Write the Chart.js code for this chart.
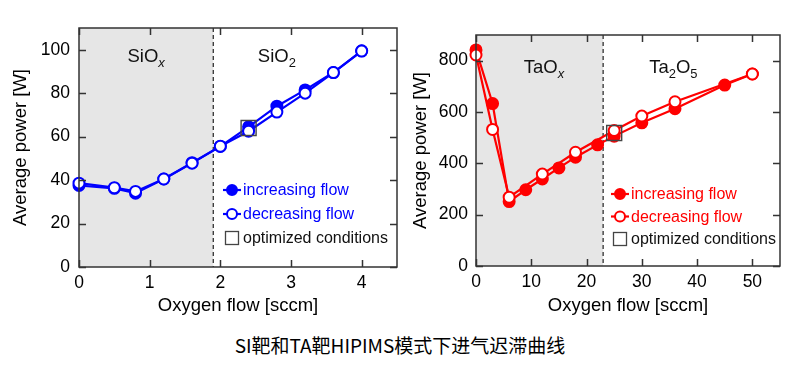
<!DOCTYPE html>
<html><head><meta charset="utf-8">
<script src="https://cdn.jsdelivr.net/npm/chart.js@4.4.0/dist/chart.umd.min.js"></script>
<style>
html,body{margin:0;padding:0;background:#fff;width:800px;height:370px;overflow:hidden;}
.wrap{position:absolute;top:0;width:400px;height:320px;}
#cap{position:absolute;left:0;top:333px;width:800px;text-align:center;font-family:"Noto Sans CJK SC";font-size:19px;color:#000;line-height:24px;}
</style></head><body>
<div class="wrap" style="left:0"><canvas id="c1" width="400" height="320"></canvas></div>
<div class="wrap" style="left:400px"><canvas id="c2" width="400" height="320"></canvas></div>
<div id="cap">SI靶和TA靶HIPIMS模式下进气迟滞曲线</div>
<script>
// ---- data ----
const siFlowInc  = [0, 0.5, 0.8, 1.2, 1.6, 2.0, 2.4, 2.8, 3.2, 3.6, 4.0];
const siPowerInc = [37.5, 36.2, 34.0, 40.5, 48.0, 55.5, 64.5, 74.0, 81.5, 89.5, 99.5];
const siFlowDec  = [0, 0.5, 0.8, 1.2, 1.6, 2.0, 2.4, 2.8, 3.2, 3.6, 4.0];
const siPowerDec = [38.6, 36.5, 34.8, 40.5, 47.8, 55.6, 62.5, 71.3, 80.0, 89.5, 99.4];
const siOptFlow  = [2.4];
const siOptPower = [64];

const taFlowInc  = [0, 3, 6, 9, 12, 15, 18, 22, 25, 30, 36, 45, 50];
const taPowerInc = [842, 633, 251, 297, 339, 382, 424, 472, 506, 558, 613, 705, 748];
const taFlowDec  = [0, 3, 6, 12, 18, 25, 30, 36, 50];
const taPowerDec = [822, 532, 268, 358, 443, 528, 584, 640, 748];
const taOptFlow  = [25];
const taOptPower = [518];

const legendLabels = ['increasing flow', 'decreasing flow', 'optimized conditions'];
const xTitle = 'Oxygen flow [sccm]';
const yTitle = 'Average power [W]';

const pts = (xs, ys) => xs.map((v, i) => ({x: v, y: ys[i]}));
const FONT = '"Liberation Sans", Arial, sans-serif';

function drawFormula(ctx, parts, cx, cy, size) {
  const fonts = parts.map(p => (p.italic ? 'italic ' : '') + (p.sub ? size * 0.7 : size) + 'px ' + FONT);
  let w = 0;
  const ws = parts.map((p, i) => { ctx.font = fonts[i]; const m = ctx.measureText(p.t).width; w += m; return m; });
  let x = cx - w / 2;
  ctx.textBaseline = 'alphabetic';
  ctx.textAlign = 'left';
  parts.forEach((p, i) => {
    ctx.font = fonts[i];
    ctx.fillText(p.t, x, cy + size * 0.35 + (p.sub ? size * 0.28 : 0));
    x += ws[i];
  });
}

const decor = {
  id: 'decor',
  beforeDatasetsDraw(chart, args, o) {
    const {ctx, chartArea: a, scales: {x, y}} = chart;
    ctx.save();
    const xb = x.getPixelForValue(o.boundary);
    ctx.fillStyle = '#e6e6e6';
    ctx.fillRect(a.left, a.top, xb - a.left, a.bottom - a.top);
    ctx.strokeStyle = '#222'; ctx.lineWidth = 1.2; ctx.setLineDash([4, 3]);
    ctx.beginPath(); ctx.moveTo(xb, a.top); ctx.lineTo(xb, a.bottom); ctx.stroke();
    ctx.setLineDash([]);
    ctx.fillStyle = '#111';
    o.regions.forEach(r => drawFormula(ctx, r.parts, x.getPixelForValue(r.x), y.getPixelForValue(r.y), 18.5));
    ctx.restore();
  },
  afterDatasetsDraw(chart, args, o) {
    const {ctx, chartArea: a, scales: {x, y}} = chart;
    ctx.save();
    // frame with inward ticks on all sides
    ctx.strokeStyle = '#333'; ctx.lineWidth = 1.5;
    ctx.strokeRect(a.left, a.top, a.right - a.left, a.bottom - a.top);
    ctx.beginPath();
    x.ticks.forEach(t => {
      const p = Math.round(x.getPixelForValue(t.value)) + 0.5;
      ctx.moveTo(p, a.bottom); ctx.lineTo(p, a.bottom - 7);
      ctx.moveTo(p, a.top); ctx.lineTo(p, a.top + 7);
    });
    y.ticks.forEach(t => {
      const p = Math.round(y.getPixelForValue(t.value)) + 0.5;
      ctx.moveTo(a.left, p); ctx.lineTo(a.left + 7, p);
      ctx.moveTo(a.right, p); ctx.lineTo(a.right - 7, p);
    });
    ctx.stroke();
    // legend
    const ds = chart.data.datasets;
    const lx = a.right + o.legendX, ly0 = a.top + o.legendY;
    ctx.font = '16px ' + FONT; ctx.textBaseline = 'middle'; ctx.textAlign = 'left';
    for (let i = 0; i < 3; i++) {
      const d = ds[i], yy = ly0 + i * o.legendGap;
      if (i < 2) {
        ctx.strokeStyle = d.borderColor; ctx.lineWidth = 2.2;
        ctx.beginPath(); ctx.moveTo(lx - 9, yy); ctx.lineTo(lx + 9, yy); ctx.stroke();
        ctx.beginPath(); ctx.arc(lx, yy, 5, 0, Math.PI * 2);
        ctx.fillStyle = d.pointBackgroundColor; ctx.fill();
        ctx.lineWidth = 2; ctx.stroke();
        ctx.fillStyle = d.borderColor;
      } else {
        ctx.strokeStyle = d.pointBorderColor; ctx.lineWidth = 1.3;
        ctx.strokeRect(lx - 6.5, yy - 6.5, 13, 13);
        ctx.fillStyle = '#111';
      }
      ctx.fillText(legendLabels[i], lx + 11, yy + 1);
    }
    ctx.restore();
  }
};

function makeChart(id, color, inc, dec, opt, sc, lay) {
  const common = {showLine: true, borderColor: color, borderWidth: 2.2, pointRadius: 5.5,
    pointBorderWidth: 2, pointBorderColor: color, pointHoverRadius: 5.5, clip: false};
  return new Chart(document.getElementById(id), {
    type: 'scatter',
    data: {datasets: [
      Object.assign({label: legendLabels[0], data: inc, pointBackgroundColor: color, backgroundColor: color, order: 3}, common),
      Object.assign({label: legendLabels[1], data: dec, pointBackgroundColor: '#ffffff', backgroundColor: '#ffffff', order: 2}, common),
      {label: legendLabels[2], data: opt, showLine: false, pointStyle: 'rect', pointRadius: 10.6,
       pointBorderColor: '#444', pointBackgroundColor: 'rgba(0,0,0,0)', pointBorderWidth: 1.4, order: 1, clip: false}
    ]},
    options: {
      responsive: false, animation: false, devicePixelRatio: 1,
      events: [],
      layout: {autoPadding: false, padding: {left: 0, top: lay.top, right: lay.right, bottom: 0}},
      plugins: {legend: {display: false}, tooltip: {enabled: false},
        decor: {boundary: sc.boundary, regions: sc.regions, legendX: lay.legendX, legendY: lay.legendY, legendGap: lay.legendGap}},
      scales: {
        x: {type: 'linear', min: 0, max: sc.xmax,
            ticks: {stepSize: sc.xstep, includeBounds: false, color: '#000', padding: 6, font: {family: FONT, size: 17.5}, maxRotation: 0},
            grid: {display: false, drawTicks: false}, border: {display: false},
            title: {display: true, text: xTitle, color: '#000', font: {family: FONT, size: 18.5}, padding: {top: 0, bottom: 3}},
            afterFit: s => { s.height = lay.xh; s.paddingLeft = 0; s.paddingRight = 0; }},
        y: {type: 'linear', min: 0, max: sc.ymax,
            ticks: {stepSize: sc.ystep, includeBounds: false, color: '#000', padding: lay.ypad, font: {family: FONT, size: 17.5}},
            grid: {display: false, drawTicks: false}, border: {display: false},
            title: {display: true, text: yTitle, color: '#000', font: {family: FONT, size: 18.5}, padding: {top: 10, bottom: 0}},
            afterFit: s => { s.width = lay.yw; s.paddingTop = 0; s.paddingBottom = 0; }}
      }
    },
    plugins: [decor]
  });
}

makeChart('c1', '#0000ff', pts(siFlowInc, siPowerInc), pts(siFlowDec, siPowerDec), pts(siOptFlow, siOptPower),
  {xmax: 4.5, xstep: 1, ymax: 110, ystep: 20, boundary: 1.9,
   regions: [{x: 0.95, y: 97.5, parts: [{t: 'SiO'}, {t: 'x', sub: true, italic: true}]},
             {x: 2.8, y: 97.5, parts: [{t: 'SiO'}, {t: '2', sub: true}]}]},
  {top: 28, right: 3, xh: 53, yw: 79, ypad: 9, legendX: -165, legendY: 162, legendGap: 24});

makeChart('c2', '#ff0000', pts(taFlowInc, taPowerInc), pts(taFlowDec, taPowerDec), pts(taOptFlow, taOptPower),
  {xmax: 55, xstep: 10, ymax: 900, ystep: 200, boundary: 23,
   regions: [{x: 12.3, y: 778, parts: [{t: 'TaO'}, {t: 'x', sub: true, italic: true}]},
             {x: 35.7, y: 778, parts: [{t: 'Ta'}, {t: '2', sub: true}, {t: 'O'}, {t: '5', sub: true}]}]},
  {top: 35, right: 20, xh: 54, yw: 76, ypad: 8, legendX: -160, legendY: 159, legendGap: 22.5});
</script>
</body></html>
